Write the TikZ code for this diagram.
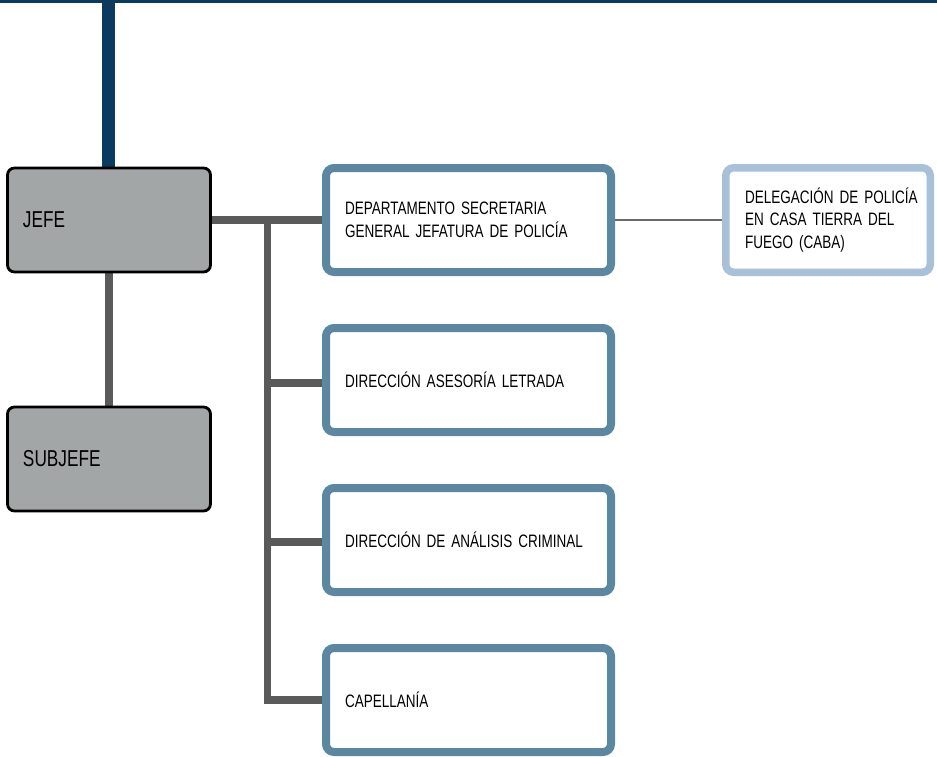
\documentclass[tikz,border=0pt]{standalone}
\usepackage{fontspec}
\setmainfont{Liberation Sans}[FakeStretch=0.75]
\usetikzlibrary{backgrounds}
\definecolor{navy}{HTML}{0B3A5F}
\definecolor{boxgray}{HTML}{A2A6A6}
\definecolor{linkgray}{HTML}{5A5A5A}
\definecolor{steel}{HTML}{5B87A1}
\definecolor{paleblue}{HTML}{A8C0D8}
\definecolor{thingray}{HTML}{6A6A6A}
\begin{document}
\begin{tikzpicture}[x=1pt,y=-1pt,
  graybox/.style={draw=black, line width=2.8pt, fill=boxgray, rounded corners=7pt,
    minimum width=203pt, minimum height=104pt, inner xsep=15.5pt, text width=172pt,
    align=left, font=\fontsize{23}{28}\selectfont},
  bluebox/.style={draw=steel, line width=8pt, fill=white, rounded corners=8pt,
    minimum width=285pt, minimum height=104pt, inner xsep=19pt, text width=247pt,
    align=left, font=\fontsize{18}{23.3}\selectfont},
  palebox/.style={draw=paleblue, line width=7.5pt, fill=white, rounded corners=8pt,
    minimum width=204.5pt, minimum height=104.5pt, inner xsep=19.25pt, text width=166pt,
    align=left, font=\fontsize{18}{22.7}\selectfont},
  link/.style={draw=linkgray, line width=7.5pt, line join=miter},
  thinlink/.style={draw=thingray, line width=2.2pt},
  toplink/.style={draw=navy, line width=13pt}
]
\useasboundingbox (0,0) rectangle (937,756);
\fill[navy] (0,0) rectangle (937,2.7);

\coordinate (top) at (108.5,0);
\coordinate (trunk) at (267.5,220);

\node[graybox] (jefe) at (109,220) {JEFE};
\node[graybox] (subjefe) at (109,459) {SUBJEFE};
\node[bluebox] (dept) at (468.5,220) {\mbox{DEPARTAMENTO SECRETARIA}\\\mbox{GENERAL JEFATURA DE POLICÍA}};
\node[bluebox] (asesoria) at (468.5,380) {\mbox{DIRECCIÓN ASESORÍA LETRADA}};
\node[bluebox] (analisis) at (468.5,540) {\mbox{DIRECCIÓN DE ANÁLISIS CRIMINAL}};
\node[bluebox] (capellania) at (468.5,700) {CAPELLANÍA};
\node[palebox] (deleg) at (828,220) {\mbox{DELEGACIÓN DE POLICÍA}\\\mbox{EN CASA TIERRA DEL}\\\mbox{FUEGO (CABA)}};

\begin{scope}[on background layer]
\draw[toplink] (top) -- (top |- jefe.north);
\draw[link] (jefe.south) -- (subjefe.north);
\draw[link] (jefe.east) -- (dept.west);
\draw[link] (trunk) |- ([yshift=-3pt]asesoria.west);
\draw[link] (trunk) |- ([yshift=-2pt]analisis.west);
\draw[link] (trunk) |- (capellania.west);
\draw[thinlink] (dept.east) -- (deleg.west);
\end{scope}
\end{tikzpicture}
\end{document}
